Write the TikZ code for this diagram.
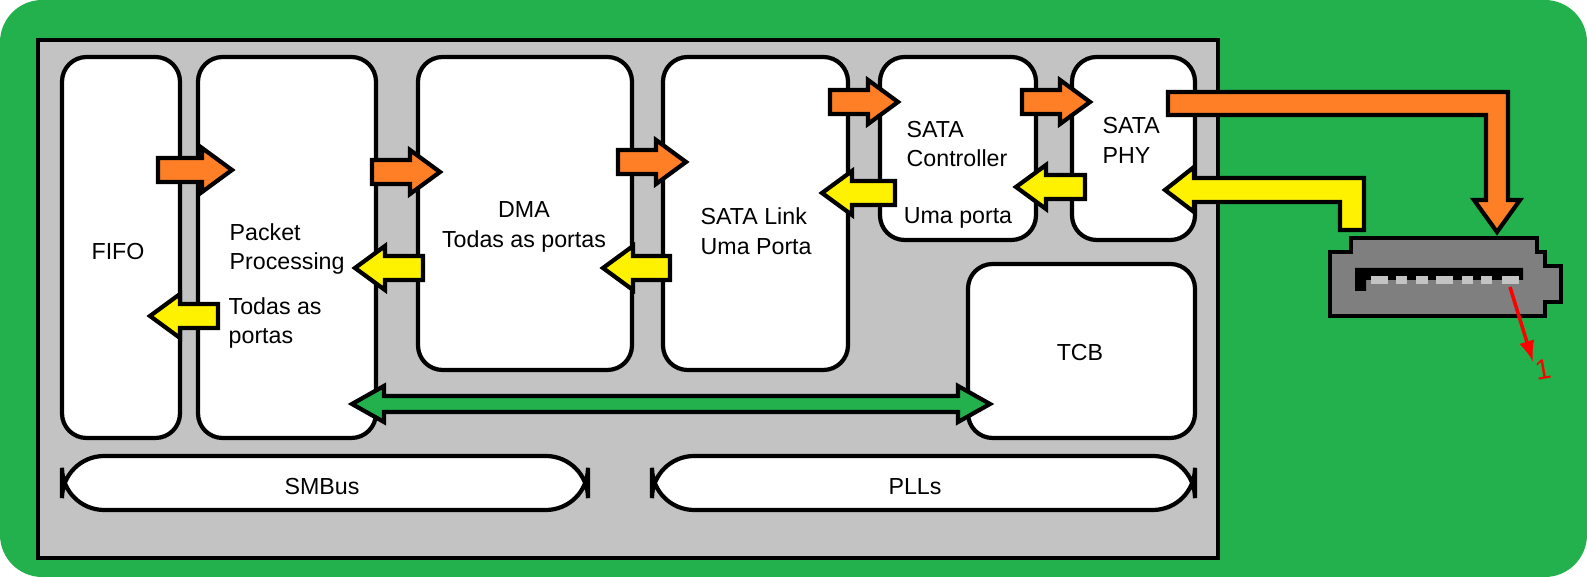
\documentclass[tikz,border=0pt]{standalone}
\usepackage{fontspec}
\setmainfont{Liberation Sans}
\definecolor{board}{RGB}{34,177,76}
\definecolor{panel}{RGB}{195,195,195}
\definecolor{dataout}{RGB}{255,127,39}
\definecolor{datain}{RGB}{255,242,0}
\definecolor{ctrl}{RGB}{34,177,76}
\definecolor{plug}{RGB}{127,127,127}
\tikzstyle{blk}=[draw=black, line width=1.2pt, line join=miter]
\tikzstyle{box}=[blk, fill=white, rounded corners=7pt]
\tikzstyle{lbl}=[font=\fontsize{6.6}{8.5}\selectfont, inner sep=0pt]
% block arrows: colour, tail x, tip x, y
\newcommand\rarr[4]{\draw[blk,fill=#1] (#2,#4-12) -- (#3-30,#4-12) -- (#3-30,#4-22) -- (#3,#4) -- (#3-30,#4+22) -- (#3-30,#4+12) -- (#2,#4+12) -- cycle;}
\newcommand\larr[4]{\draw[blk,fill=#1] (#2,#4-12) -- (#3+30,#4-12) -- (#3+30,#4-22) -- (#3,#4) -- (#3+30,#4+22) -- (#3+30,#4+12) -- (#2,#4+12) -- cycle;}
\begin{document}
\begin{tikzpicture}[x=0.01cm, y=-0.01cm]
        	\useasboundingbox (0,0) rectangle (1587,577);
        	\fill[board, rounded corners=12pt] (0,0) rectangle (1587,577);
        	\draw[blk, fill=panel] (38,40) rectangle (1218,558);
        	% blocks
        	\draw[box] (62,57) rectangle (180,438);
        	\draw[box] (198,57) rectangle (376,438);
        	\draw[box] (418,57) rectangle (632,370);
        	\draw[box] (663,57) rectangle (848,370);
        	\draw[box] (880,57) rectangle (1036,240);
        	\draw[box] (1072,57) rectangle (1195,240);
        	\draw[box] (968,264) rectangle (1195,438);
        	\draw[box, rounded corners=12pt] (62,456) rectangle (588,510);
        	\draw[box, rounded corners=12pt] (652,456) rectangle (1195,510);
        	% labels
        	\node[lbl] (fifo) at (118,252) {FIFO};
        	\node[lbl, align=left, anchor=west] (pp) at (229,249) {Packet\\Processing};
        	\node[lbl, align=left, anchor=west] (ppall) at (228,323) {Todas as\\portas};
        	\node[lbl, align=center] (dma) at (524,227) {DMA\\Todas as portas};
        	\node[lbl, align=left, anchor=west] (link) at (700,231) {SATA Link\\Uma Porta};
        	\node[lbl, align=left, anchor=west] (ctl) at (906,144) {SATA\\Controller};
        	\node[lbl] (ctlone) at (958,218) {Uma porta};
        	\node[lbl, align=left, anchor=west] (phy) at (1102,140) {SATA\\PHY};
        	\node[lbl] (tcb) at (1080,353) {TCB};
        	\node[lbl] (smbus) at (322,487) {SMBus};
        	\node[lbl] (plls) at (915,487) {PLLs};
        	% transmit path
        	\rarr{dataout}{158}{232}{170}
        	\rarr{dataout}{372}{440}{172}
        	\rarr{dataout}{618}{686}{162}
        	\rarr{dataout}{830}{898}{102}
        	\rarr{dataout}{1022}{1090}{102}
        	% receive path
        	\larr{datain}{895}{822}{193}
        	\larr{datain}{1085}{1016}{187}
        	\larr{datain}{670}{603}{268}
        	\larr{datain}{423}{355}{268}
        	\larr{datain}{218}{150}{316}
        	% to and from the plug
        	\draw[blk, fill=dataout] (1168,92) -- (1508,92) -- (1508,200) -- (1520,200) -- (1497,232) -- (1474,200) -- (1486,200) -- (1486,115) -- (1168,115) -- cycle;
        	\draw[blk, fill=datain] (1364,230) -- (1364,178) -- (1194,178) -- (1194,167) -- (1165,190) -- (1194,212) -- (1194,202) -- (1340,202) -- (1340,230) -- cycle;
        	% control bus
        	\draw[blk, fill=ctrl] (352,404) -- (384,386) -- (384,396) -- (958,396) -- (958,386) -- (990,404) -- (958,422) -- (958,412) -- (384,412) -- (384,422) -- cycle;
        	% plug
        	\draw[blk, fill=plug] (1351,238) -- (1537,238) -- (1537,252) -- (1545,252) -- (1545,266) -- (1561,266) -- (1561,302) -- (1545,302) -- (1545,316) -- (1330,316) -- (1330,252) -- (1351,252) -- cycle;
        	\fill[black] (1355,268) rectangle (1523,280) (1355,268) rectangle (1366,291);
        	\foreach \a/\b in {1371/1388, 1396/1407, 1416/1428, 1436/1453, 1462/1473, 1481/1492, 1502/1519}
        		\fill[panel] (\a,276) rectangle (\b,284);
        	\coordinate (pin) at (1510,287);
        	\node[text=red, font=\fontsize{8}{8}\selectfont, rotate=10, inner sep=0pt] (one) at (1543,370) {1};
        	\draw[red, line width=1pt, -latex] (pin) -- (one.north west);
\end{tikzpicture}
\end{document}
